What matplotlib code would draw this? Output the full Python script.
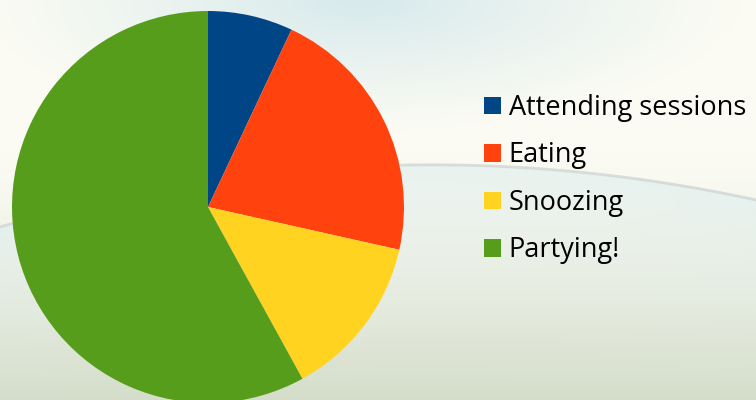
import matplotlib
matplotlib.use('Agg')
import matplotlib.pyplot as plt
import numpy as np

labels = ['Attending sessions', 'Eating', 'Snoozing', 'Partying!']
values = [7, 21.5, 13.5, 58]
colors = ['#004586', '#ff420e', '#ffd320', '#579d1c']

W, H = 756, 400


def arc_y(x):
    return 3.34e-4 * (x - 431.5) ** 2 + 164.8


def background():
    yy, xx = np.mgrid[0:H, 0:W].astype(float)
    base = np.array([251, 251, 243], float)
    bottom = np.array([212, 220, 200], float)
    t = np.clip((yy - 150) / 250, 0, 1)[..., None] ** 1.3
    img = base * (1 - t) + bottom * t
    # bluish glow along the top
    d = np.sqrt(((xx - 360) / 380) ** 2 + (yy / 130) ** 2)
    g = np.clip(1 - d, 0, 1)[..., None] ** 1.1 * 0.75
    img = img * (1 - g) + np.array([203, 228, 234]) * g
    # cooler band under the arc
    dist = yy - arc_y(xx)
    band = np.where(dist > 0, np.exp(-dist / 90), 0)[..., None] * 0.55
    img = img * (1 - band) + np.array([218, 236, 238]) * band
    return img / 255.0


fig = plt.figure(figsize=(W / 100, H / 100), dpi=100)

bg = fig.add_axes([0, 0, 1, 1])
bg.imshow(background(), extent=(0, W, H, 0), aspect='auto')
xs = np.linspace(0, W, 300)
bg.plot(xs, arc_y(xs), color='#cfd6d4', lw=2, alpha=0.8)
bg.set_xlim(0, W)
bg.set_ylim(H, 0)
bg.axis('off')

cx, cy, r = 208, 207, 196
ax = fig.add_axes([(cx - r) / W, (H - cy - r) / H, 2 * r / W, 2 * r / H])
ax.patch.set_alpha(0)
wedges, _ = ax.pie(values, colors=colors, startangle=90, counterclock=False,
                   wedgeprops=dict(linewidth=0))
ax.set_xlim(-1, 1)
ax.set_ylim(-1, 1)
ax.set_aspect('equal')

fig.legend(wedges, labels, loc='upper left', bbox_to_anchor=(473 / W, 1 - 83 / H),
           frameon=False, prop={'family': 'Open Sans', 'size': 19.5},
           handlelength=0.62, handleheight=0.62, handletextpad=0.3,
           labelspacing=0.72, borderaxespad=0)

fig.savefig('out.png', dpi=100)
